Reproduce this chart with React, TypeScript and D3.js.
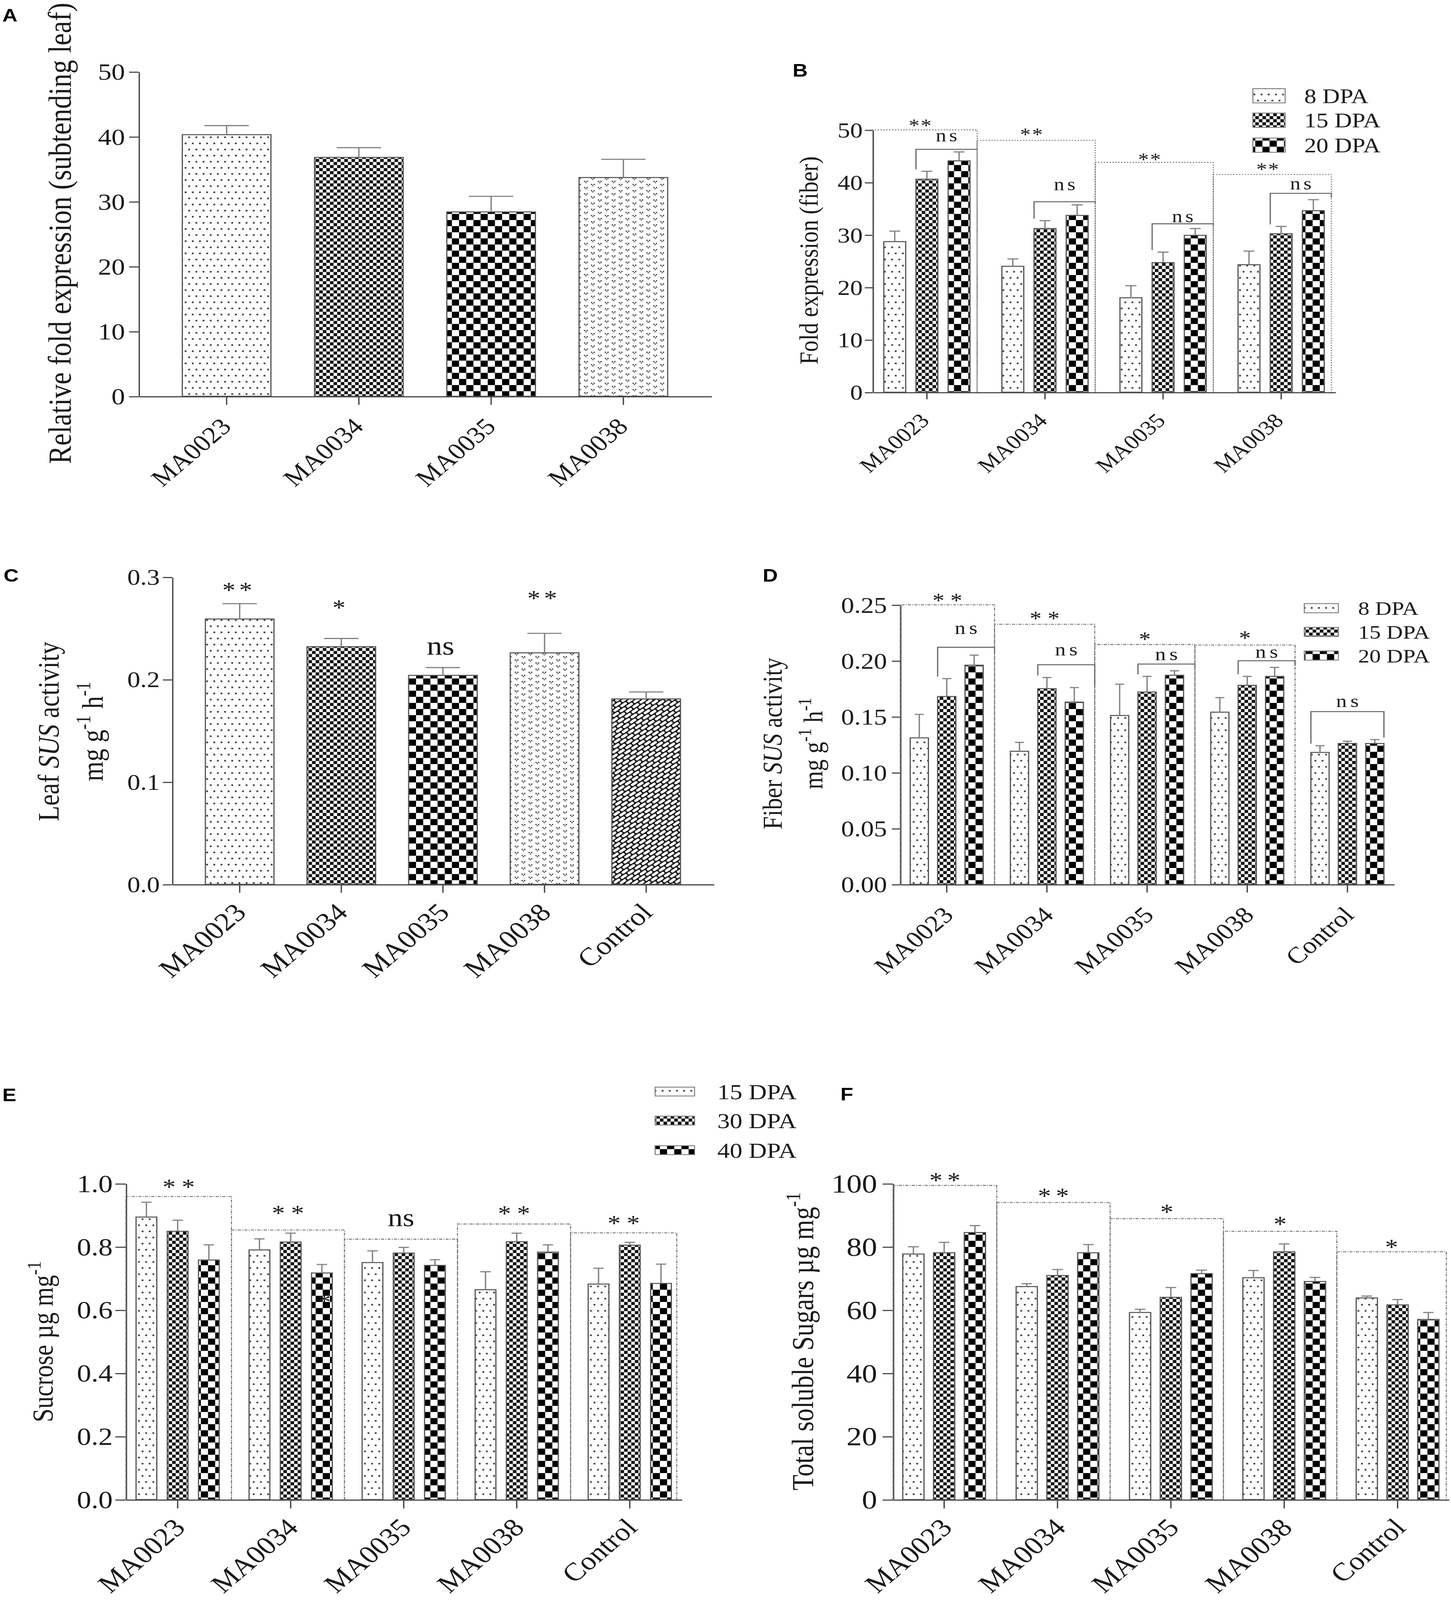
import { useEffect, useRef } from 'react'
import * as d3 from 'd3'

// ---------- data ----------
const strains = ['MA0023', 'MA0034', 'MA0035', 'MA0038']
const strainsCtl = ['MA0023', 'MA0034', 'MA0035', 'MA0038', 'Control']

// A: relative fold expression, subtending leaf
const leafFold = [40.3, 36.8, 28.4, 33.7]
const leafFoldSd = [1.4, 1.5, 2.4, 2.8]
const ticksA = [0, 10, 20, 30, 40, 50]

// B: fold expression, fiber
const dpaB = ['8 DPA', '15 DPA', '20 DPA']
const fiber8 = [28.7, 24.0, 18.0, 24.3]
const fiber8Sd = [2.0, 1.4, 2.3, 2.6]
const fiber15 = [40.6, 31.2, 24.7, 30.2]
const fiber15Sd = [1.5, 1.5, 2.0, 1.4]
const fiber20 = [44.1, 33.7, 29.9, 34.6]
const fiber20Sd = [1.7, 2.0, 1.3, 2.1]
const sigB = ['**', '**', '**', '**']
const sigBBox = [50, 48.0, 43.8, 41.5]
const sigBAt = [51.3, 49.6, 44.8, 43.0]
const nsBLine = [46.3, 36.3, 32.1, 37.9]
const nsBAt = [48.6, 39.3, 33.2, 39.4]
const ticksB = [0, 10, 20, 30, 40, 50]

// C: leaf SUS activity
const leafSus = [0.259, 0.232, 0.204, 0.226, 0.181]
const leafSusSd = [0.015, 0.008, 0.0076, 0.019, 0.0068]
const sigC = ['**', '*', 'ns', '**', '']
const sigCAt = [0.29, 0.273, 0.23, 0.282, 0]
const ticksC = [0, 0.1, 0.2, 0.3]

// D: fiber SUS activity
const dpaD = ['8 DPA', '15 DPA', '20 DPA']
const fiberSus8 = [0.131, 0.119, 0.151, 0.154, 0.118]
const fiberSus8Sd = [0.021, 0.008, 0.028, 0.013, 0.006]
const fiberSus15 = [0.168, 0.175, 0.172, 0.178, 0.126]
const fiberSus15Sd = [0.016, 0.01, 0.014, 0.008, 0.002]
const fiberSus20 = [0.196, 0.163, 0.187, 0.186, 0.126]
const fiberSus20Sd = [0.009, 0.013, 0.004, 0.008, 0.0035]
const sigD = ['**', '**', '*', '*', '']
const sigDBox = [0.25, 0.2326, 0.2145, 0.214, 0]
const sigDAt = [0.2564, 0.24, 0.2215, 0.2228, 0]
const nsDLine = [0.212, 0.1964, 0.197, 0.2, 0.1545]
const nsDAt = [0.2277, 0.2084, 0.2042, 0.2064, 0.1625]
const ticksD = [0, 0.05, 0.1, 0.15, 0.2, 0.25]

// E: sucrose
const dpaE = ['15 DPA', '30 DPA', '40 DPA']
const sucrose15 = [0.894, 0.79, 0.75, 0.664, 0.682]
const sucrose15Sd = [0.047, 0.035, 0.037, 0.057, 0.05]
const sucrose30 = [0.849, 0.815, 0.78, 0.816, 0.805]
const sucrose30Sd = [0.035, 0.028, 0.018, 0.027, 0.009]
const sucrose40 = [0.758, 0.717, 0.741, 0.783, 0.684]
const sucrose40Sd = [0.048, 0.027, 0.018, 0.023, 0.061]
const sigE = ['**', '**', 'ns', '**', '**']
const sigEBox = [0.959, 0.853, 0.824, 0.872, 0.844]
const sigEAt = [0.998, 0.916, 0.884, 0.914, 0.884]
// stray asterisk printed over the MA0034 / 40 DPA bar
const strayE = { cat: 'MA0034', series: 2, at: 0.635, text: '*' }
const ticksE = [0, 0.2, 0.4, 0.6, 0.8, 1.0]

// F: total soluble sugars
const sugars15 = [77.7, 67.4, 59.2, 70.2, 63.8]
const sugars15Sd = [2.3, 0.9, 1.0, 2.3, 0.6]
const sugars30 = [78.1, 70.9, 64.0, 78.4, 61.6]
const sugars30Sd = [3.3, 1.9, 3.1, 2.5, 1.7]
const sugars40 = [84.5, 78.1, 71.5, 69.0, 57.0]
const sugars40Sd = [2.2, 2.6, 1.1, 1.3, 2.2]
const sigF = ['**', '**', '*', '*', '*']
const sigFBox = [99.4, 94.0, 88.9, 84.9, 78.4]
const sigFAt = [102.0, 97.0, 92.0, 88.1, 80.8]
const ticksF = [0, 20, 40, 60, 80, 100]

// ---------- drawing ----------
const K = 3.06
const VW = 3714 / K
const VH = 4806 / K
const SERIF = "'Liberation Serif', 'Times New Roman', serif"
const SANS = "'Liberation Sans', Arial, sans-serif"
const INK = '#1a1a1a'
const AXIS = '#444'
const ERR = '#808080'

type Sel = d3.Selection<SVGGElement, unknown, null, undefined>

interface BarSpec {
  cats: string[]
  series: { values: number[]; sd: number[]; fill: string | string[] }[]
  x0: number
  x1: number
  padIn: number
  padOut: number
  subPad: number
  y0: number
  yTop: number
  yMax: number
  ticks: number[]
  fmt: (v: number) => string
  tickFont: number
  tickLen: number
  tickPad: number
  xTickLen: number
  catFont: number
  catDx: number
  catDy: number
}

function addPatterns(defs: d3.Selection<SVGDefsElement, unknown, null, undefined>) {
  const pat = (id: string, w: number, h: number, bg: string, tf?: string) => {
    const p = defs
      .append('pattern')
      .attr('id', id)
      .attr('patternUnits', 'userSpaceOnUse')
      .attr('width', w)
      .attr('height', h)
    if (tf) p.attr('patternTransform', tf)
    p.append('rect').attr('width', w).attr('height', h).attr('fill', bg)
    return p
  }
  const sq = (p: any, x: number, y: number, s: number, c: string) =>
    p.append('rect').attr('x', x).attr('y', y).attr('width', s).attr('height', s).attr('fill', c)

  let p = pat('p-dots', 6, 12, '#fff')
  sq(p, 1.5, 2, 1.5, '#333')
  sq(p, 4.5, 8, 1.5, '#333')

  p = pat('p-fine', 6, 6, '#fff')
  sq(p, 0, 0, 3, '#111')
  sq(p, 3, 3, 3, '#111')

  p = pat('p-big', 12, 12, '#fff')
  sq(p, 0, 0, 6, '#000')
  sq(p, 6, 6, 6, '#000')

  // little "v" marks, staggered columns
  p = pat('p-v', 11.6, 6.1, '#fff')
  ;[
    [2.9, 1.6],
    [8.7, 4.65],
    [8.7, -1.45],
  ].forEach(([cx, cy]) => {
    sq(p, cx - 1.6, cy - 1.0, 1.05, '#222')
    sq(p, cx + 0.55, cy - 1.0, 1.05, '#222')
    sq(p, cx - 0.6, cy + 0.1, 1.2, '#666')
  })

  // diagonal brick
  p = pat('p-brick', 7.4, 7.0, '#111', 'rotate(-38)')
  ;[
    [0.55, 0.55],
    [4.25, 4.05],
    [-3.15, 4.05],
  ].forEach(([x, y]) =>
    p.append('rect').attr('x', x).attr('y', y).attr('width', 6.3).attr('height', 2.4).attr('rx', 1.1).attr('fill', '#fff'),
  )
}

function drawBars(root: Sel, s: BarSpec) {
  const x = d3.scaleBand<string>().domain(s.cats).range([s.x0, s.x1]).paddingInner(s.padIn).paddingOuter(s.padOut)
  const sub = d3
    .scaleBand<number>()
    .domain(d3.range(s.series.length))
    .range([0, x.bandwidth()])
    .paddingInner(s.subPad)
  const y = d3.scaleLinear().domain([0, s.yMax]).range([s.y0, s.yTop])
  const g = root.append('g')

  s.series.forEach((ser, si) => {
    const rows = s.cats.map((c, i) => ({ c, i, v: ser.values[i], e: ser.sd[i] }))
    const bx = (d: { c: string }) => (x(d.c) as number) + (sub(si) as number)
    const bw = sub.bandwidth()

    g.append('g')
      .selectAll('rect')
      .data(rows)
      .join('rect')
      .attr('x', bx)
      .attr('y', (d) => y(d.v))
      .attr('width', bw)
      .attr('height', (d) => y(0) - y(d.v))
      .attr('fill', (d) => (Array.isArray(ser.fill) ? ser.fill[d.i] : ser.fill))
      .attr('stroke', '#555')
      .attr('stroke-width', 1)

    // error bars (upper half only)
    const eg = g.append('g').attr('stroke', ERR).attr('stroke-width', 1.1)
    eg.selectAll('line.stem')
      .data(rows)
      .join('line')
      .attr('class', 'stem')
      .attr('x1', (d) => bx(d) + bw / 2)
      .attr('x2', (d) => bx(d) + bw / 2)
      .attr('y1', (d) => y(d.v))
      .attr('y2', (d) => y(d.v + d.e))
    eg.selectAll('line.cap')
      .data(rows)
      .join('line')
      .attr('class', 'cap')
      .attr('x1', (d) => bx(d) + bw / 4)
      .attr('x2', (d) => bx(d) + (3 * bw) / 4)
      .attr('y1', (d) => y(d.v + d.e))
      .attr('y2', (d) => y(d.v + d.e))
  })

  // y axis
  const ya = g
    .append('g')
    .attr('transform', `translate(${s.x0},0)`)
    .call(
      d3
        .axisLeft(y)
        .tickValues(s.ticks)
        .tickFormat((v) => s.fmt(+v))
        .tickSize(s.tickLen)
        .tickSizeOuter(0)
        .tickPadding(s.tickPad),
    )
  ya.attr('font-family', SERIF)
  ya.select('.domain').attr('stroke', AXIS).attr('stroke-width', 1.1)
  ya.selectAll('.tick line').attr('stroke', AXIS).attr('stroke-width', 1.1)
  ya.selectAll('.tick text')
    .attr('font-family', SERIF)
    .attr('font-size', s.tickFont)
    .attr('fill', INK)
    .attr('dy', '0.33em')

  // x axis
  const xa = g
    .append('g')
    .attr('transform', `translate(0,${s.y0})`)
    .call(d3.axisBottom(x).tickSize(s.xTickLen).tickSizeOuter(0).tickFormat(() => ''))
  xa.select('.domain').attr('stroke', AXIS).attr('stroke-width', 1.1)
  xa.selectAll('.tick line').attr('stroke', AXIS).attr('stroke-width', 1.1)

  g.append('g')
    .selectAll('text')
    .data(s.cats)
    .join('text')
    .attr(
      'transform',
      (c) => `translate(${(x(c) as number) + x.bandwidth() / 2 + s.catDx},${s.y0 + s.catDy}) rotate(-45)`,
    )
    .attr('text-anchor', 'end')
    .attr('font-family', SERIF)
    .attr('font-size', s.catFont)
    .attr('fill', INK)
    .text((c) => c)

  return { x, sub, y }
}

function box(g: Sel, xl: number, xr: number, yt: number, yb: number, dash: string) {
  g.append('path')
    .attr('d', `M${xl},${yb}V${yt}H${xr}V${yb}`)
    .attr('fill', 'none')
    .attr('stroke', '#777')
    .attr('stroke-width', 0.9)
    .attr('stroke-dasharray', dash)
}

function bracket(g: Sel, xl: number, xr: number, yt: number, ylL: number, ylR: number) {
  g.append('path')
    .attr('d', `M${xl},${ylL}V${yt}H${xr}V${ylR}`)
    .attr('fill', 'none')
    .attr('stroke', '#666')
    .attr('stroke-width', 1)
}

function sig(g: Sel, cx: number, yPx: number, txt: string, font: number, ls: number) {
  if (!txt) return
  const star = txt.includes('*')
  g.append('text')
    .attr('x', cx + ls / 2)
    .attr('y', yPx + (star ? 0.47 : 0.23) * font)
    .attr('text-anchor', 'middle')
    .attr('font-family', SERIF)
    .attr('font-size', font)
    .attr('letter-spacing', ls)
    .attr('fill', INK)
    .text(txt)
}

function legend(
  g: Sel,
  labels: string[],
  fills: string[],
  sx: number,
  rows: number[],
  sw: number,
  sh: number,
  tx: number,
  font: number,
) {
  labels.forEach((lab, i) => {
    g.append('rect')
      .attr('x', sx)
      .attr('y', rows[i] - sh / 2)
      .attr('width', sw)
      .attr('height', sh)
      .attr('fill', fills[i])
      .attr('stroke', '#777')
      .attr('stroke-width', 0.8)
    g.append('text')
      .attr('x', tx)
      .attr('y', rows[i] + 0.35 * font)
      .attr('font-family', SERIF)
      .attr('font-size', font)
      .attr('fill', INK)
      .text(lab)
  })
}

function yTitle(g: Sel, x: number, y: number, font: number, parts: [string, string?][]) {
  const t = g
    .append('text')
    .attr('transform', `translate(${x},${y}) rotate(-90)`)
    .attr('text-anchor', 'middle')
    .attr('font-family', SERIF)
    .attr('font-size', font)
    .attr('fill', INK)
  let raised = false
  parts.forEach(([txt, kind]) => {
    const ts = t.append('tspan').text(txt)
    if (kind === 'i') ts.attr('font-style', 'italic')
    if (kind === 'sup') {
      ts.attr('font-size', font * 0.68).attr('dy', -font * 0.42)
      raised = true
    } else if (raised) {
      ts.attr('dy', font * 0.42)
      raised = false
    }
  })
}

function panelLetter(g: Sel, x: number, y: number, l: string) {
  g.append('text')
    .attr('x', x)
    .attr('y', y)
    .attr('font-family', SANS)
    .attr('font-weight', 'bold')
    .attr('font-size', 17.5)
    .attr('fill', '#000')
    .text(l)
}

const DOTS = 'url(#p-dots)'
const FINE = 'url(#p-fine)'
const BIG = 'url(#p-big)'
const VDOT = 'url(#p-v)'
const BRICK = 'url(#p-brick)'

export default function App() {
  const ref = useRef<SVGSVGElement>(null)

  useEffect(() => {
    document.body.style.margin = '0'
    document.body.style.overflow = 'hidden'
    if (!ref.current) return
    const svg = d3.select(ref.current)
    svg.selectAll('*').remove()
    addPatterns(svg.append('defs'))
    svg.append('rect').attr('width', VW).attr('height', VH).attr('fill', '#fff')
    const root = svg.append('g') as unknown as Sel
    const ann = root.append('g')

    // ---- A ----
    drawBars(root, {
      cats: strains,
      series: [{ values: leafFold, sd: leafFoldSd, fill: [DOTS, FINE, BIG, VDOT] }],
      x0: 116, x1: 595, padIn: 0.33, padOut: 0.33, subPad: 0,
      y0: 389, yTop: 70.4, yMax: 50, ticks: ticksA, fmt: d3.format('d'),
      tickFont: 22.7, tickLen: 8, tickPad: 3.4, xTickLen: 8.4,
      catFont: 23, catDx: 5, catDy: 31,
    })
    yTitle(root, 59, 229, 27, [['Relative fold expression (subtending leaf)']])
    panelLetter(root, 2, 21, 'A')

    // ---- B ----
    const b = drawBars(root, {
      cats: strains,
      series: [
        { values: fiber8, sd: fiber8Sd, fill: DOTS },
        { values: fiber15, sd: fiber15Sd, fill: FINE },
        { values: fiber20, sd: fiber20Sd, fill: BIG },
      ],
      x0: 730, x1: 1117, padIn: 0.27, padOut: 0.094, subPad: 0.32,
      y0: 385, yTop: 127.5, yMax: 50, ticks: ticksB, fmt: d3.format('d'),
      tickFont: 21, tickLen: 6.6, tickPad: 1.8, xTickLen: 7,
      catFont: 20, catDx: 3, catDy: 29,
    })
    let left = 730
    strains.forEach((c, i) => {
      const cx = (b.x(c) as number) + b.x.bandwidth() / 2
      const right = cx + 42
      box(ann, left, right, b.y(sigBBox[i]), b.y(0), '1.1 1.3')
      sig(ann, (left + right) / 2 - 4, b.y(sigBAt[i]), sigB[i], 18, 1)
      const xl = (b.x(c) as number) + (b.sub(1) as number)
      bracket(ann, xl, right, b.y(nsBLine[i]), b.y(fiber15[i] + fiber15Sd[i]) - 2, b.y(fiber20[i] + fiber20Sd[i]) - 2)
      sig(ann, (xl + right) / 2, b.y(nsBAt[i]), 'ns', 17.5, 2.5)
      left = right
    })
    legend(root, dpaB, [DOTS, FINE, BIG], 1048, [94, 118, 142.5], 27, 14, 1091, 20.2)
    yTitle(root, 684, 255.6, 22.3, [['Fold expression (fiber)']])
    panelLetter(root, 663, 75, 'B')

    // ---- C ----
    const cc = drawBars(root, {
      cats: strainsCtl,
      series: [{ values: leafSus, sd: leafSusSd, fill: [DOTS, FINE, BIG, VDOT, BRICK] }],
      x0: 144, x1: 597, padIn: 0.325, padOut: 0.327, subPad: 0,
      y0: 868.1, yTop: 566.4, yMax: 0.3, ticks: ticksC, fmt: d3.format('.1f'),
      tickFont: 21.8, tickLen: 7.8, tickPad: 2.5, xTickLen: 8.2,
      catFont: 25, catDx: 6.6, catDy: 29,
    })
    strainsCtl.forEach((c, i) => {
      const cx = (cc.x(c) as number) + cc.x.bandwidth() / 2
      const t = sigC[i]
      sig(ann, cx - 2, cc.y(sigCAt[i]), t, t === 'ns' ? 26 : 22, t === 'ns' ? 0 : 3)
    })
    yTitle(root, 49, 718, 25, [['Leaf '], ['SUS', 'i'], [' activity']])
    yTitle(root, 86, 718, 25, [['mg g'], ['-1', 'sup'], [' h'], ['-1', 'sup']])
    panelLetter(root, 3, 571, 'C')

    // ---- D ----
    const dd = drawBars(root, {
      cats: strainsCtl,
      series: [
        { values: fiberSus8, sd: fiberSus8Sd, fill: DOTS },
        { values: fiberSus15, sd: fiberSus15Sd, fill: FINE },
        { values: fiberSus20, sd: fiberSus20Sd, fill: BIG },
      ],
      x0: 753, x1: 1166, padIn: 0.271, padOut: 0.1, subPad: 0.336,
      y0: 868.1, yTop: 593.7, yMax: 0.25, ticks: ticksD, fmt: d3.format('.2f'),
      tickFont: 22, tickLen: 7, tickPad: 4, xTickLen: 8,
      catFont: 22.7, catDx: 6.7, catDy: 31.5,
    })
    left = 753
    strainsCtl.forEach((c, i) => {
      const bx = dd.x(c) as number
      const cx = bx + dd.x.bandwidth() / 2
      const top15 = dd.y(fiberSus15[i] + fiberSus15Sd[i]) - 2
      const top20 = dd.y(fiberSus20[i] + fiberSus20Sd[i]) - 2
      if (sigD[i]) {
        const right = cx + 40
        box(ann, left, right, dd.y(sigDBox[i]), dd.y(0), '2.6 1 0.8 1')
        sig(ann, (left + right) / 2, dd.y(sigDAt[i]), sigD[i], 20, sigD[i].length > 1 ? 5 : 0)
        const xl = bx + (dd.sub(1) as number)
        bracket(ann, xl, right, dd.y(nsDLine[i]), top15, top20)
        sig(ann, (xl + right) / 2, dd.y(nsDAt[i]), 'ns', 18, 3)
        left = right
      } else {
        const xl = bx + (dd.sub(0) as number)
        const xr = bx + (dd.sub(2) as number) + dd.sub.bandwidth()
        bracket(ann, xl, xr, dd.y(nsDLine[i]), dd.y(fiberSus8[i] + fiberSus8Sd[i]) - 2, top20)
        sig(ann, (xl + xr) / 2, dd.y(nsDAt[i]), 'ns', 18, 3)
      }
    })
    legend(root, dpaD, [DOTS, FINE, BIG], 1091, [597, 620.3, 643.5], 28.5, 9, 1136, 19)
    yTitle(root, 654, 729.8, 23, [['Fiber '], ['SUS', 'i'], [' activity']])
    yTitle(root, 688, 729.8, 23, [['mg g'], ['-1', 'sup'], [' h'], ['-1', 'sup']])
    panelLetter(root, 638, 571, 'D')

    // ---- E ----
    const ee = drawBars(root, {
      cats: strainsCtl,
      series: [
        { values: sucrose15, sd: sucrose15Sd, fill: DOTS },
        { values: sucrose30, sd: sucrose30Sd, fill: FINE },
        { values: sucrose40, sd: sucrose40Sd, fill: BIG },
      ],
      x0: 105.3, x1: 570.1, padIn: 0.264, padOut: 0.09, subPad: 0.336,
      y0: 1472, yTop: 1161.8, yMax: 1.0, ticks: ticksE, fmt: d3.format('.1f'),
      tickFont: 24, tickLen: 8.8, tickPad: 2.2, xTickLen: 8.7,
      catFont: 25, catDx: 7.5, catDy: 29,
    })
    left = 105.3
    strainsCtl.forEach((c, i) => {
      const cx = (ee.x(c) as number) + ee.x.bandwidth() / 2
      const right = Math.min(cx + 45, 570.1 - 4)
      box(ann, left, right, ee.y(sigEBox[i]), ee.y(0), '2.6 1 0.8 1')
      const t = sigE[i]
      sig(ann, (left + right) / 2, ee.y(sigEAt[i]), t, t === 'ns' ? 25 : 22, t === 'ns' ? 0 : 5)
      left = right
    })
    {
      const sx = (ee.x(strayE.cat) as number) + (ee.sub(strayE.series) as number) + ee.sub.bandwidth() / 2
      sig(ann, sx + 2, ee.y(strayE.at), strayE.text, 22, 0)
    }
    legend(root, dpaE, [DOTS, FINE, BIG], 548, [1071.5, 1100, 1129], 33, 8.7, 600, 21)
    yTitle(root, 44, 1317, 24, [['Sucrose µg mg'], ['-1', 'sup']])
    panelLetter(root, 2, 1081, 'E')

    // ---- F ----
    const ff = drawBars(root, {
      cats: strainsCtl,
      series: [
        { values: sugars15, sd: sugars15Sd, fill: DOTS },
        { values: sugars30, sd: sugars30Sd, fill: FINE },
        { values: sugars40, sd: sugars40Sd, fill: BIG },
      ],
      x0: 747, x1: 1211.8, padIn: 0.27, padOut: 0.086, subPad: 0.31,
      y0: 1472, yTop: 1161.8, yMax: 100, ticks: ticksF, fmt: d3.format('d'),
      tickFont: 25.6, tickLen: 8.7, tickPad: 4.6, xTickLen: 8.7,
      catFont: 25, catDx: 8, catDy: 29,
    })
    left = 747
    strainsCtl.forEach((c, i) => {
      const cx = (ff.x(c) as number) + ff.x.bandwidth() / 2
      const right = Math.min(cx + 44, 1211.8 - 2)
      box(ann, left, right, ff.y(sigFBox[i]), ff.y(0), '2.6 1 0.8 1')
      sig(ann, (left + right) / 2, ff.y(sigFAt[i]), sigF[i], 22, sigF[i].length > 1 ? 4 : 0)
      left = right
    })
    yTitle(root, 680, 1316.7, 25.3, [['Total soluble Sugars µg mg'], ['-1', 'sup']])
    panelLetter(root, 703, 1080, 'F')

    ann.raise()
  }, [])

  return (
    <svg
      ref={ref}
      viewBox={`0 0 ${VW} ${VH}`}
      preserveAspectRatio="none"
      style={{ display: 'block', position: 'fixed', left: 0, top: 0, width: '100vw', height: '100vh', background: '#fff' }}
    />
  )
}
